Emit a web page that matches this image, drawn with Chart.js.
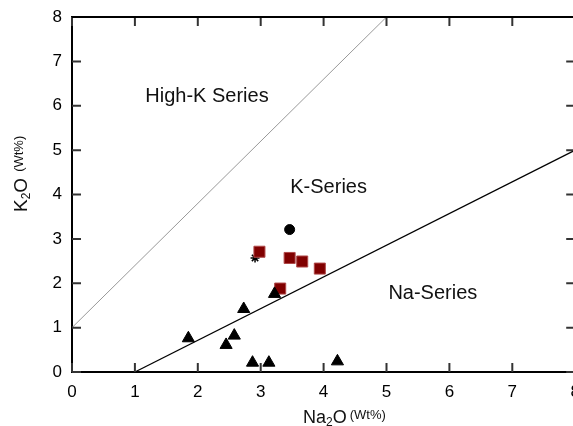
<!DOCTYPE html>
<html><head><meta charset="utf-8">
<script src="https://cdn.jsdelivr.net/npm/chart.js@4"></script>
<style>
html,body{margin:0;padding:0;overflow:hidden;background:#fff;width:573px;height:426px}
#wrap{width:584px;height:426px}
canvas{display:block}
</style></head>
<body><div id="wrap"><canvas id="c" width="584" height="426"></canvas></div>
<script>
const xTicks=[0,1,2,3,4,5,6,7,8];
const yTicks=[0,1,2,3,4,5,6,7,8];
const triNa2O=[3.22,2.73,1.85,2.58,2.45,2.87,3.13,4.22];
const triK2O=[1.76,1.42,0.76,0.82,0.61,0.21,0.21,0.24];
const sqNa2O=[2.98,3.46,3.66,3.94,3.31];
const sqK2O=[2.71,2.57,2.49,2.33,1.88];
const dotNa2O=[3.46];
const dotK2O=[3.21];
const starNa2O=[2.91];
const starK2O=[2.57];
const highKLineX=[0,5];
const highKLineY=[1,8];
const naLineX=[1,8];
const naLineY=[0,5];
const regionLabels=['High-K Series','K-Series','Na-Series'];
const regionX=[1.165,3.47,5.03];
const regionY=[6.2,4.16,1.76];

const FONT="'Liberation Sans', Arial, Helvetica, sans-serif";
const pts=(xs,ys)=>xs.map((v,i)=>({x:v,y:ys[i]}));

const extras={id:'extras',afterDraw(chart){
  const {ctx,chartArea:a,scales:{x,y}}=chart;
  ctx.save();
  ctx.lineWidth=2; ctx.strokeStyle='#333';
  ctx.beginPath();
  xTicks.forEach(v=>{const p=x.getPixelForValue(v);
    ctx.moveTo(p,a.bottom);ctx.lineTo(p,a.bottom-9);
    ctx.moveTo(p,a.top);ctx.lineTo(p,a.top+9);});
  yTicks.forEach(v=>{const p=y.getPixelForValue(v);
    ctx.moveTo(a.left,p);ctx.lineTo(a.left+9,p);
    ctx.moveTo(a.right,p);ctx.lineTo(a.right-9,p);});
  ctx.stroke();
  ctx.strokeStyle='#000';ctx.beginPath();
  ctx.moveTo(a.left,a.top);ctx.lineTo(a.right,a.top);ctx.lineTo(a.right,a.bottom);ctx.stroke();
  ctx.fillStyle='#111';ctx.textAlign='left';ctx.textBaseline='middle';
  ctx.font='20px '+FONT;
  regionLabels.forEach((t,i)=>ctx.fillText(t,x.getPixelForValue(regionX[i]),y.getPixelForValue(regionY[i])));
  ctx.textBaseline='alphabetic';
  const runs=(list,x0,y0)=>{let cx=x0;list.forEach(r=>{ctx.font=r.s+'px '+FONT;ctx.fillText(r.t,cx,y0+(r.dy||0));cx+=ctx.measureText(r.t).width+(r.g||0);});};
  runs([{t:'Na',s:18},{t:'2',s:12,dy:3},{t:'O',s:18,g:3},{t:'(Wt%)',s:13,dy:-4}],303,423);
  ctx.translate(26.5,212);ctx.rotate(-Math.PI/2);
  runs([{t:'K',s:19},{t:'2',s:12,dy:3},{t:'O',s:19,g:6},{t:'(Wt%)',s:13,dy:-4}],0,0);
  ctx.restore();
}};

new Chart(document.getElementById('c'),{
  type:'scatter',
  data:{datasets:[
    {data:pts(triNa2O,triK2O),pointStyle:'triangle',pointRadius:7,backgroundColor:'#000',borderColor:'#000',borderWidth:1},
    {data:pts(sqNa2O,sqK2O),pointStyle:'rect',pointRadius:7.8,backgroundColor:'#800000',borderColor:'#b04848',borderWidth:1},
    {data:pts(dotNa2O,dotK2O),pointStyle:'circle',pointRadius:5,backgroundColor:'#000',borderColor:'#000',borderWidth:1},
    {data:pts(starNa2O,starK2O),pointStyle:'star',pointRadius:4.5,backgroundColor:'#000',borderColor:'#000',borderWidth:1.5},
    {data:pts(naLineX,naLineY),showLine:true,pointRadius:0,borderColor:'#000',borderWidth:1.2},
    {data:pts(highKLineX,highKLineY),showLine:true,pointRadius:0,borderColor:'#999',borderWidth:1}
  ]},
  options:{
    responsive:false,animation:false,
    layout:{padding:{left:0,right:5,top:17,bottom:0}},
    plugins:{legend:{display:false},tooltip:{enabled:false}},
    scales:{
      x:{type:'linear',min:0,max:8,
        ticks:{stepSize:1,padding:10,color:'#000',font:{family:FONT,size:17}},
        grid:{display:false,drawTicks:false},border:{display:true,color:'#000',width:2},
        afterFit(s){s.height=54;s.paddingLeft=0;s.paddingRight=0;}},
      y:{type:'linear',min:0,max:8,
        ticks:{stepSize:1,padding:10,color:'#000',font:{family:FONT,size:17}},
        grid:{display:false,drawTicks:false},border:{display:true,color:'#000',width:2},
        afterFit(s){s.width=72;s.paddingTop=0;s.paddingBottom=0;}}
    }
  },
  plugins:[extras]
});
</script>
</body></html>
